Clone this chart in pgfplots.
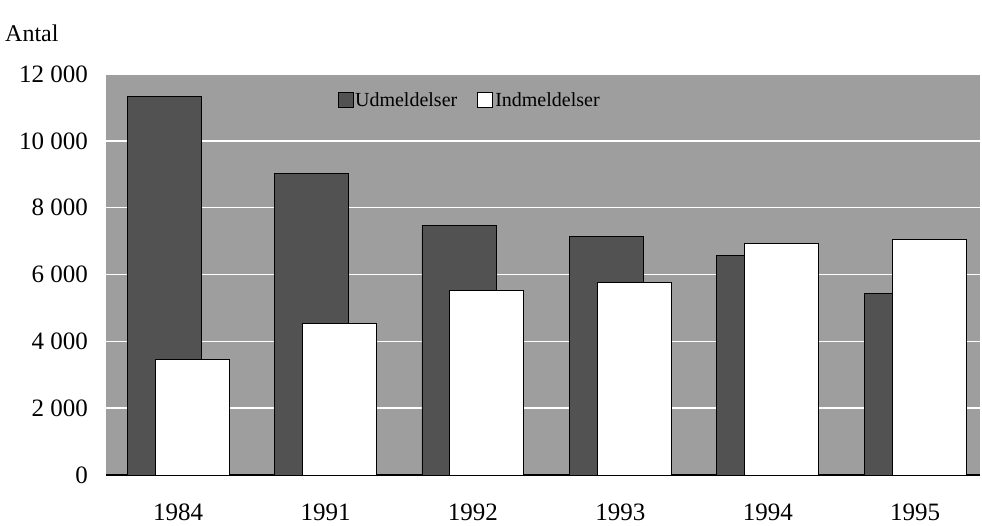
\documentclass[border=0pt]{standalone}
\usepackage{pgfplots}
\pgfplotsset{compat=1.18}
\usepackage{fontspec}
\setmainfont{Liberation Serif}
\definecolor{bgray}{RGB}{158,158,158}
\definecolor{dgray}{RGB}{82,82,82}
\begin{document}
\begin{tikzpicture}
\begin{axis}[
  name=ax,
  scale only axis,
  width=874bp, height=401bp,
  xmin=-0.49, xmax=5.44,
  ymin=0, ymax=12000,
  ytick={0,2000,4000,6000,8000,10000,12000},
  xtick={0,1,2,3,4,5},
  xticklabels={1984,1991,1992,1993,1994,1995},
  scaled y ticks=false,
  /pgf/number format/assume math mode=true,
  /pgf/number format/1000 sep={\ },
  major tick length=0pt,
  axis x line*=bottom,
  axis y line*=left,
  x axis line style={line width=1.5bp, -},
  y axis line style={draw=none},
  ymajorgrids,
  major grid style={white, line width=1.6bp},
  axis background/.style={fill=bgray},
  ticklabel style={font=\fontsize{25bp}{30bp}\selectfont},
  yticklabel style={anchor=east, inner sep=0pt, xshift=-18bp},
  xticklabel style={anchor=north, inner sep=0pt, yshift=-29bp},
  ybar, bar width=74bp,
  legend style={draw=none, fill=none, at={(0.416,0.935)}, anchor=center,
    legend columns=2, font=\fontsize{20bp}{22bp}\selectfont,
    /tikz/every even column/.append style={column sep=18bp}},
  legend image code/.code={\draw[#1] (0bp,-7bp) rectangle (15bp,8bp);},
]
\addplot[fill=dgray, draw=black, line width=0.6bp, bar shift=-14bp] coordinates
  {(0,11340) (1,9030) (2,7470) (3,7140) (4,6570) (5,5430)};
\addplot[fill=white, draw=black, line width=1bp, bar shift=14bp] coordinates
  {(0,3450) (1,4530) (2,5520) (3,5760) (4,6930) (5,7050)};
\legend{Udmeldelser, Indmeldelser}
\end{axis}
\node[anchor=base west, inner sep=0pt, font=\fontsize{24bp}{28bp}\selectfont]
  at ([xshift=-101bp, yshift=433bp]ax.south west) {Antal};
\path[use as bounding box] ([xshift=-106bp,yshift=-51bp]ax.south west)
  rectangle ([xshift=2bp,yshift=74bp]ax.north east);
\end{tikzpicture}
\end{document}
